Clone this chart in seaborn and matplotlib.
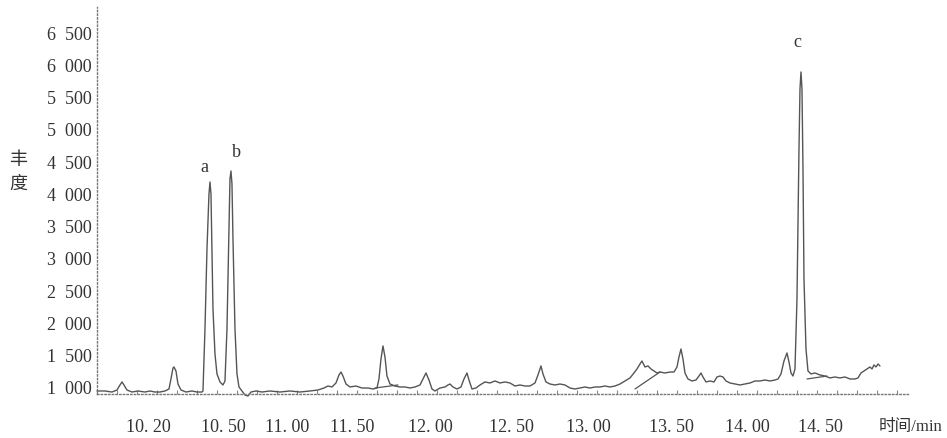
import numpy as np
import pandas as pd
import seaborn as sns
import matplotlib.pyplot as plt
from matplotlib.ticker import MultipleLocator

# -------------------------------
# Data (x = chart position, y = abundance)
# -------------------------------
x_pos = [0, 8, 15, 20, 23, 25, 27, 30, 35, 41, 48, 53, 58, 63, 68, 72, 74, 76, 77, 79,
         81, 84, 89, 95, 100, 105, 106, 108, 110, 112, 113, 114, 115, 116, 118, 120,
         123, 126, 128, 130, 132, 133, 134, 135, 136, 138, 140, 142, 145, 148, 151, 154,
         159, 165, 173, 183, 193, 203, 213, 221, 227, 231, 235, 239, 242, 244, 246, 249,
         253, 259, 265, 271, 276, 280, 282, 284, 286, 288, 290, 293, 298, 303, 308, 313,
         318, 323, 326, 329, 332, 335, 338, 343, 348, 351, 353, 356, 360, 364, 367, 370,
         372, 375, 379, 383, 388, 393, 398, 403, 408, 413, 418, 423, 428, 433, 438, 441,
         444, 446, 449, 453, 458, 463, 468, 473, 478, 483, 488, 493, 498, 503, 508, 513,
         518, 523, 528, 533, 537, 540, 543, 545, 548, 551, 554, 557, 560, 563, 568, 573,
         577, 580, 582, 584, 586, 588, 591, 595, 599, 602, 604, 606, 609, 613, 617, 620,
         623, 626, 629, 633, 638, 643, 648, 653, 658, 663, 668, 673, 678, 681, 684, 687,
         690, 692, 694, 696, 698, 700, 702, 703, 704, 705, 706, 707, 709, 711, 714, 718,
         723, 728, 733, 738, 743, 748, 753, 758, 761, 764, 767, 770, 773, 775, 777, 779,
         781, 783]
abundance = [938, 938, 922, 953, 1031, 1078, 1031, 953, 922, 938, 922, 938, 922, 922, 938, 969, 1124, 1294, 1310, 1248,
             1046, 953, 922, 938, 922, 922, 938, 1899, 3139, 3992, 4178, 3992, 3139, 2209, 1512, 1202,
             1078, 1031, 1093, 1899, 3449, 4224, 4348, 4147, 3294, 1899, 1202, 1000, 938, 876, 860, 922,
             938, 922, 938, 922, 938, 922, 938, 953, 984, 1015, 1000, 1062, 1186, 1232, 1170, 1046,
             1000, 1015, 984, 984, 969, 984, 1124, 1434, 1636, 1465, 1170, 1046, 1015, 1000, 1000, 984,
             1000, 1031, 1124, 1217, 1108, 969, 938, 984, 1000, 1031, 1046, 1000, 969, 1000, 1124, 1217,
             1108, 969, 984, 1031, 1078, 1062, 1093, 1062, 1078, 1062, 1015, 1031, 1015, 1015, 1062, 1186,
             1326, 1202, 1078, 1046, 1031, 1046, 1031, 984, 969, 984, 1000, 984, 1000, 1000, 1015, 1000,
             1015, 1046, 1093, 1140, 1217, 1279, 1356, 1403, 1310, 1326, 1279, 1248, 1217, 1232, 1217, 1232,
             1232, 1310, 1465, 1589, 1434, 1217, 1124, 1093, 1108, 1170, 1217, 1155, 1078, 1093, 1078, 1155,
             1170, 1155, 1093, 1062, 1046, 1031, 1046, 1062, 1093, 1093, 1108, 1093, 1108, 1124, 1202, 1403,
             1527, 1388, 1217, 1170, 1279, 2364, 4689, 5619, 5883, 5619, 4379, 2674, 1589, 1248, 1202, 1217,
             1186, 1170, 1140, 1155, 1140, 1155, 1124, 1124, 1140, 1217, 1248, 1279, 1310, 1279, 1341, 1310,
             1356, 1326]

# integration baselines drawn under some peaks
base_x = [[278, 301], [538, 563], [710, 730]]
base_y = [[984, 1031], [969, 1232], [1124, 1170]]

# peak labels
peak_names = ["a", "b", "c"]
peak_x = [107, 139, 700]
peak_y = [4410, 4643, 6348]

# axis ticks
xtick_pos = [51, 126, 190, 255, 333, 414, 491, 574, 650, 723]
xtick_labels = ["10. 20", "10. 50", "11. 00", "11. 50", "12. 00",
                "12. 50", "13. 00", "13. 50", "14. 00", "14. 50"]
ytick_vals = [1000, 1500, 2000, 2500, 3000, 3500, 4000, 4500, 5000, 5500, 6000, 6500]

# -------------------------------
# Plot
# -------------------------------
sns.set_theme(style="white")
plt.rcParams['font.family'] = ['Liberation Serif', 'Noto Sans CJK SC', 'DejaVu Sans']

df = pd.DataFrame({"pos": x_pos, "abund": abundance})

fig = plt.figure(figsize=(9.47, 4.39), dpi=100)
ax = fig.add_axes([0.1024, 0.1002, 0.8564, 0.8816])

sns.lineplot(data=df, x="pos", y="abund", estimator=None, color="#555555",
             linewidth=1.0, ax=ax, clip_on=False)

for bx, by in zip(base_x, base_y):
    ax.plot(bx, by, color="#555555", linewidth=0.9)

for name, px, py in zip(peak_names, peak_x, peak_y):
    ax.text(px, py, name, ha="center", va="center", fontsize=13, color="#333333")

ax.set_xlim(0, 811)
ax.set_ylim(891, 6890)

ax.set_xticks(xtick_pos)
ax.set_xticklabels(xtick_labels)
ax.set_yticks(ytick_vals)
ax.set_yticklabels([f"{v:,}".replace(",", "\u2002") for v in ytick_vals])
ax.xaxis.set_minor_locator(MultipleLocator(20))

ax.tick_params(axis="x", which="major", length=0, pad=17, labelsize=13, labelcolor="#333333")
ax.tick_params(axis="x", which="minor", length=3, width=0.8, direction="in",
               color="#888888", bottom=True)
ax.tick_params(axis="y", length=0, pad=4, labelsize=13, labelcolor="#333333")

for side in ["top", "right"]:
    ax.spines[side].set_visible(False)
for side in ["left", "bottom"]:
    ax.spines[side].set_linestyle(":")
    ax.spines[side].set_color("#777777")
    ax.spines[side].set_linewidth(1.0)

ax.set_ylabel("丰\n度", rotation=0, fontsize=13, color="#333333", linespacing=1.5,
              va="center", ha="center")
ax.yaxis.set_label_coords(-0.097, 0.576)
ax.set_xlabel("时间/min", fontsize=12, color="#333333", ha="right", va="center")
ax.xaxis.set_label_coords(1.043, -0.083)

fig.savefig("out.png", dpi=100)
